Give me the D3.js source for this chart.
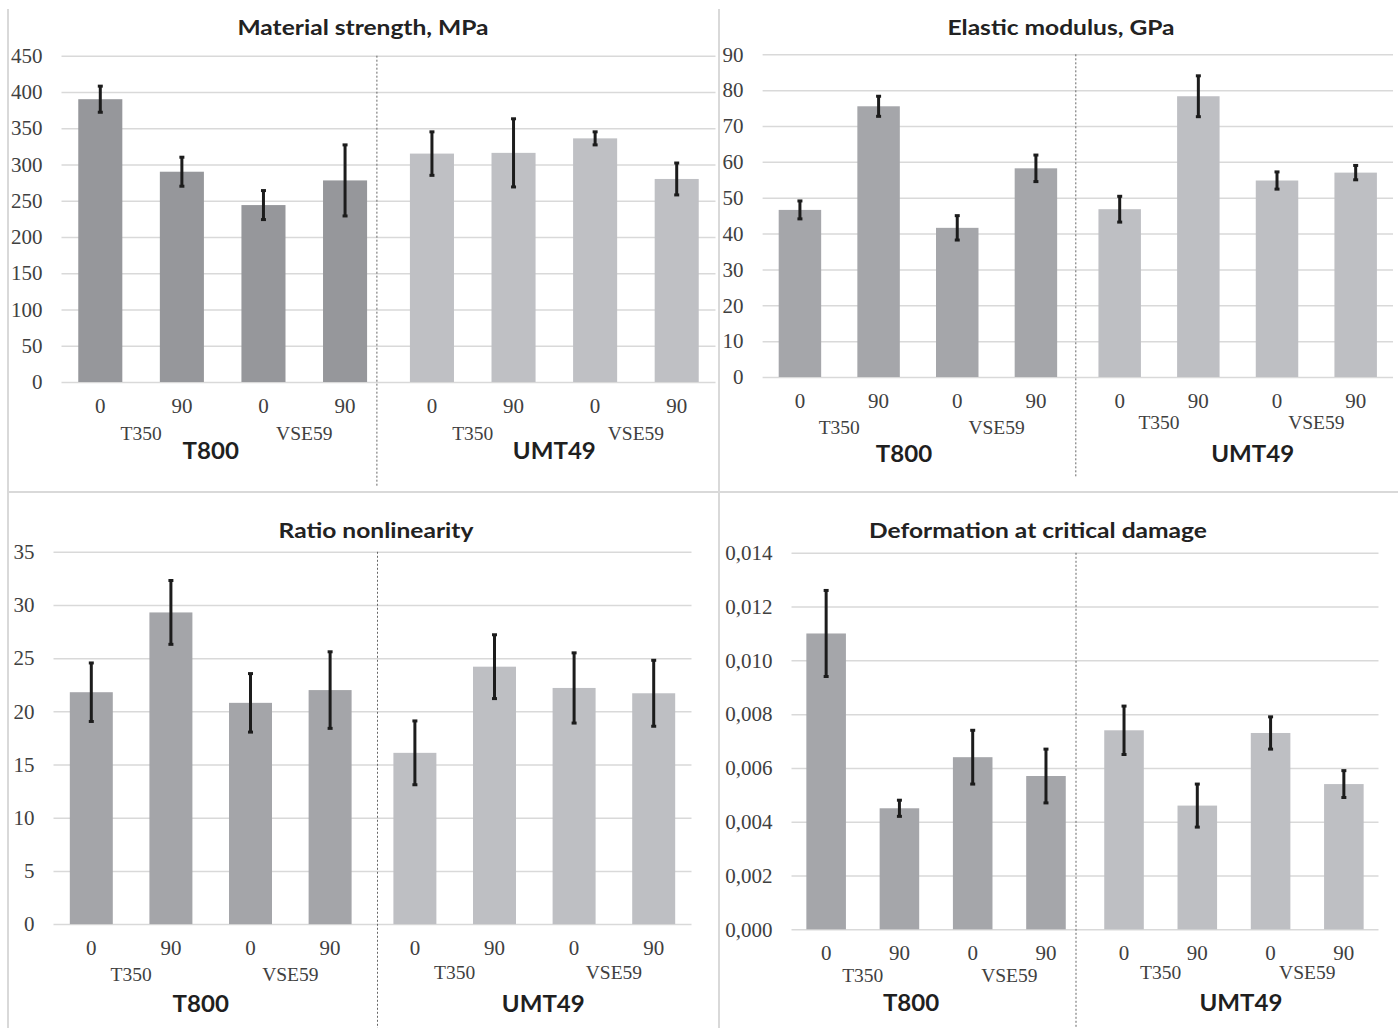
<!DOCTYPE html>
<html>
<head>
<meta charset="utf-8">
<script src="https://cdn.jsdelivr.net/npm/d3@7"></script>
<style>
    body { margin: 0; background: #fff; }
</style>
</head>
<body>
<svg id="chart" width="1398" height="1028"></svg>
<script>
// categories
const groups = ['T800', 'UMT49']
const binders = ['T350', 'VSE59']
const angles = ['0', '90']
const subCategories = ['T350-0', 'T350-90', 'VSE59-0', 'VSE59-90']

// values per bar: T800 (T350 0, T350 90, VSE59 0, VSE59 90), then UMT49 the same
const strengthValues = [390, 290, 244, 278, 315, 316, 336, 280]
const strengthErrors = [18, 20, 20, 49, 30, 47, 9, 22]
const modulusValues = [46.6, 75.5, 41.6, 58.2, 46.8, 78.3, 54.8, 57.0]
const modulusErrors = [2.5, 2.8, 3.4, 3.7, 3.6, 5.7, 2.4, 2.0]
const nonlinValues = [21.8, 29.3, 20.8, 22.0, 16.1, 24.2, 22.2, 21.7]
const nonlinErrors = [2.75, 3.0, 2.75, 3.6, 3.0, 3.0, 3.3, 3.1]
const deformValues = [0.0110, 0.0045, 0.0064, 0.0057, 0.0074, 0.0046, 0.0073, 0.0054]
const deformErrors = [0.0016, 0.0003, 0.0010, 0.0010, 0.0009, 0.0008, 0.0006, 0.0005]

// tick labels
const strengthTicks = [0, 50, 100, 150, 200, 250, 300, 350, 400, 450]
const modulusTicks = [0, 10, 20, 30, 40, 50, 60, 70, 80, 90]
const nonlinTicks = [0, 5, 10, 15, 20, 25, 30, 35]
const deformTicks = [0, 0.002, 0.004, 0.006, 0.008, 0.010, 0.012, 0.014]

const commaFormat = d3.formatLocale({ decimal: ',', thousands: ' ', grouping: [3], currency: ['', ''] }).format('.3f')

const panels = [
    {
        title: 'Material strength, MPa', values: strengthValues, errors: strengthErrors,
        ticks: strengthTicks, format: d3.format('d'),
        x0: 59.5, x1: 717.5, yTop: 55.7, yBottom: 382, titleX: 363, titleY: 35,
        sepDx: -11.6, sepBottom: 486, subY: [440, 440], groupY: 459, groupDx: [-12, 0],
        dark: '#96979b', light: '#bfc0c4'
    },
    {
        title: 'Elastic modulus, GPa', values: modulusValues, errors: modulusErrors,
        ticks: modulusTicks, format: d3.format('d'),
        x0: 760.6, x1: 1395, yTop: 54.3, yBottom: 377, titleX: 1061, titleY: 35,
        sepDx: -2, sepBottom: 478, subY: [434, 429], groupY: 462, groupDx: [-14, 15],
        dark: '#a5a6aa', light: '#bebfc3'
    },
    {
        title: 'Ratio nonlinearity', values: nonlinValues, errors: nonlinErrors,
        ticks: nonlinTicks, format: d3.format('d'),
        x0: 51.5, x1: 693.5, yTop: 551.8, yBottom: 924.1, titleX: 376, titleY: 538,
        sepDx: 5, sepBottom: 1028, subY: [981, 979], groupY: 1012, groupDx: [-10, 9],
        dark: '#a4a5a9', light: '#bebfc3'
    },
    {
        title: 'Deformation at critical damage', values: deformValues, errors: deformErrors,
        ticks: deformTicks, format: commaFormat,
        x0: 789.5, x1: 1380.5, yTop: 552.8, yBottom: 929.3, titleX: 1038, titleY: 538,
        sepDx: -9, sepBottom: 1028, subY: [982, 979], groupY: 1011, groupDx: [-25, 7],
        dark: '#a5a6aa', light: '#bebfc3'
    }
]

const svg = d3.select('#chart')
const serif = '"Liberation Serif", "Times New Roman", serif'
const sans = 'Lato, "Open Sans", sans-serif'

// panel frame lines
const frame = svg.append('g').attr('stroke', '#d9d9d9').attr('stroke-width', 2)
frame.append('line').attr('x1', 8).attr('x2', 8).attr('y1', 9).attr('y2', 1028)
frame.append('line').attr('x1', 719).attr('x2', 719).attr('y1', 9).attr('y2', 1028)
frame.append('line').attr('x1', 8).attr('x2', 1398).attr('y1', 492).attr('y2', 492)

function drawPanel (p) {
    const g = svg.append('g')
    const y = d3.scaleLinear()
        .domain([0, p.ticks[p.ticks.length - 1]])
        .range([p.yBottom, p.yTop])

    const outer = d3.scaleBand()
        .domain(groups)
        .range([p.x0, p.x1])
        .paddingInner(0.016)
    const inner = d3.scaleBand()
        .domain(subCategories)
        .range([0, outer.bandwidth()])
        .paddingInner(0.46)
        .paddingOuter(0.23)

    // gridlines + y labels
    const gridStart = p.x0 + 2
    const gridEnd = p.x1 - 2
    const yAxis = g.append('g')
        .attr('transform', `translate(${gridStart},0)`)
        .call(d3.axisLeft(y).tickValues(p.ticks).tickFormat(p.format)
            .tickSize(-(gridEnd - gridStart)).tickPadding(19))
    yAxis.select('.domain').remove()
    yAxis.selectAll('line').attr('stroke', '#d9d9d9').attr('stroke-width', 1.5)
    yAxis.selectAll('text')
        .attr('font-family', serif)
        .attr('font-size', 21)
        .attr('fill', '#404040')

    // title (source font is a bit wider than Lato, so stretch it)
    g.append('text')
        .attr('transform', `translate(${p.titleX},${p.titleY}) scale(1.17,1)`)
        .attr('text-anchor', 'middle')
        .attr('font-family', sans)
        .attr('font-weight', 'bold')
        .attr('font-size', 21)
        .attr('fill', '#222')
        .text(p.title)

    const rows = p.values.map((v, i) => ({
        group: groups[Math.floor(i / 4)],
        sub: subCategories[i % 4],
        value: v,
        err: p.errors[i],
        dark: i < 4
    }))

    // bars
    g.selectAll('rect.bar')
        .data(rows)
        .enter()
        .append('rect')
        .attr('class', 'bar')
        .attr('x', d => outer(d.group) + inner(d.sub))
        .attr('y', d => y(d.value))
        .attr('width', inner.bandwidth())
        .attr('height', d => y(0) - y(d.value))
        .attr('fill', d => d.dark ? p.dark : p.light)

    // error bars
    const cx = d => outer(d.group) + inner(d.sub) + inner.bandwidth() / 2
    const errG = g.append('g').attr('stroke', '#1c1c1c').attr('stroke-width', 3)
    errG.selectAll('line.stem')
        .data(rows)
        .enter()
        .append('line')
        .attr('x1', cx).attr('x2', cx)
        .attr('y1', d => y(d.value + d.err))
        .attr('y2', d => y(d.value - d.err))
    errG.selectAll('line.capTop')
        .data(rows)
        .enter()
        .append('line')
        .attr('x1', d => cx(d) - 2.5).attr('x2', d => cx(d) + 2.5)
        .attr('y1', d => y(d.value + d.err)).attr('y2', d => y(d.value + d.err))
    errG.selectAll('line.capBottom')
        .data(rows)
        .enter()
        .append('line')
        .attr('x1', d => cx(d) - 2.5).attr('x2', d => cx(d) + 2.5)
        .attr('y1', d => y(d.value - d.err)).attr('y2', d => y(d.value - d.err))

    // category labels (angles), one axis per group
    groups.forEach((grp, gi) => {
        const xa = g.append('g')
            .attr('transform', `translate(${outer(grp)},${p.yBottom})`)
            .call(d3.axisBottom(inner).tickSize(0).tickPadding(16)
                .tickFormat(s => s.split('-')[1]))
        xa.select('.domain').remove()
        xa.selectAll('text')
            .attr('font-family', serif)
            .attr('font-size', 21)
            .attr('fill', '#404040')

        // binder labels, centred under each pair
        binders.forEach(b => {
            const left = inner(b + '-' + angles[0])
            const right = inner(b + '-' + angles[1]) + inner.bandwidth()
            g.append('text')
                .attr('x', outer(grp) + (left + right) / 2)
                .attr('y', p.subY[gi])
                .attr('text-anchor', 'middle')
                .attr('font-family', serif)
                .attr('font-size', 19.5)
                .attr('fill', '#404040')
                .text(b)
        })

        // group label
        g.append('text')
            .attr('transform', `translate(${outer(grp) + outer.bandwidth() / 2 + p.groupDx[gi]},${p.groupY}) scale(1.07,1)`)
            .attr('text-anchor', 'middle')
            .attr('font-family', sans)
            .attr('font-weight', 'bold')
            .attr('font-size', 22.5)
            .attr('fill', '#1f1f1f')
            .text(grp)
    })

    // dotted separator between the two fibre groups
    const sepX = (outer(groups[0]) + outer.bandwidth() + outer(groups[1])) / 2 + p.sepDx
    g.append('line')
        .attr('x1', sepX).attr('x2', sepX)
        .attr('y1', p.yTop).attr('y2', p.sepBottom)
        .attr('stroke', '#666')
        .attr('stroke-width', 1)
        .attr('stroke-dasharray', '2,2')
}

panels.forEach(drawPanel)
</script>
</body>
</html>
